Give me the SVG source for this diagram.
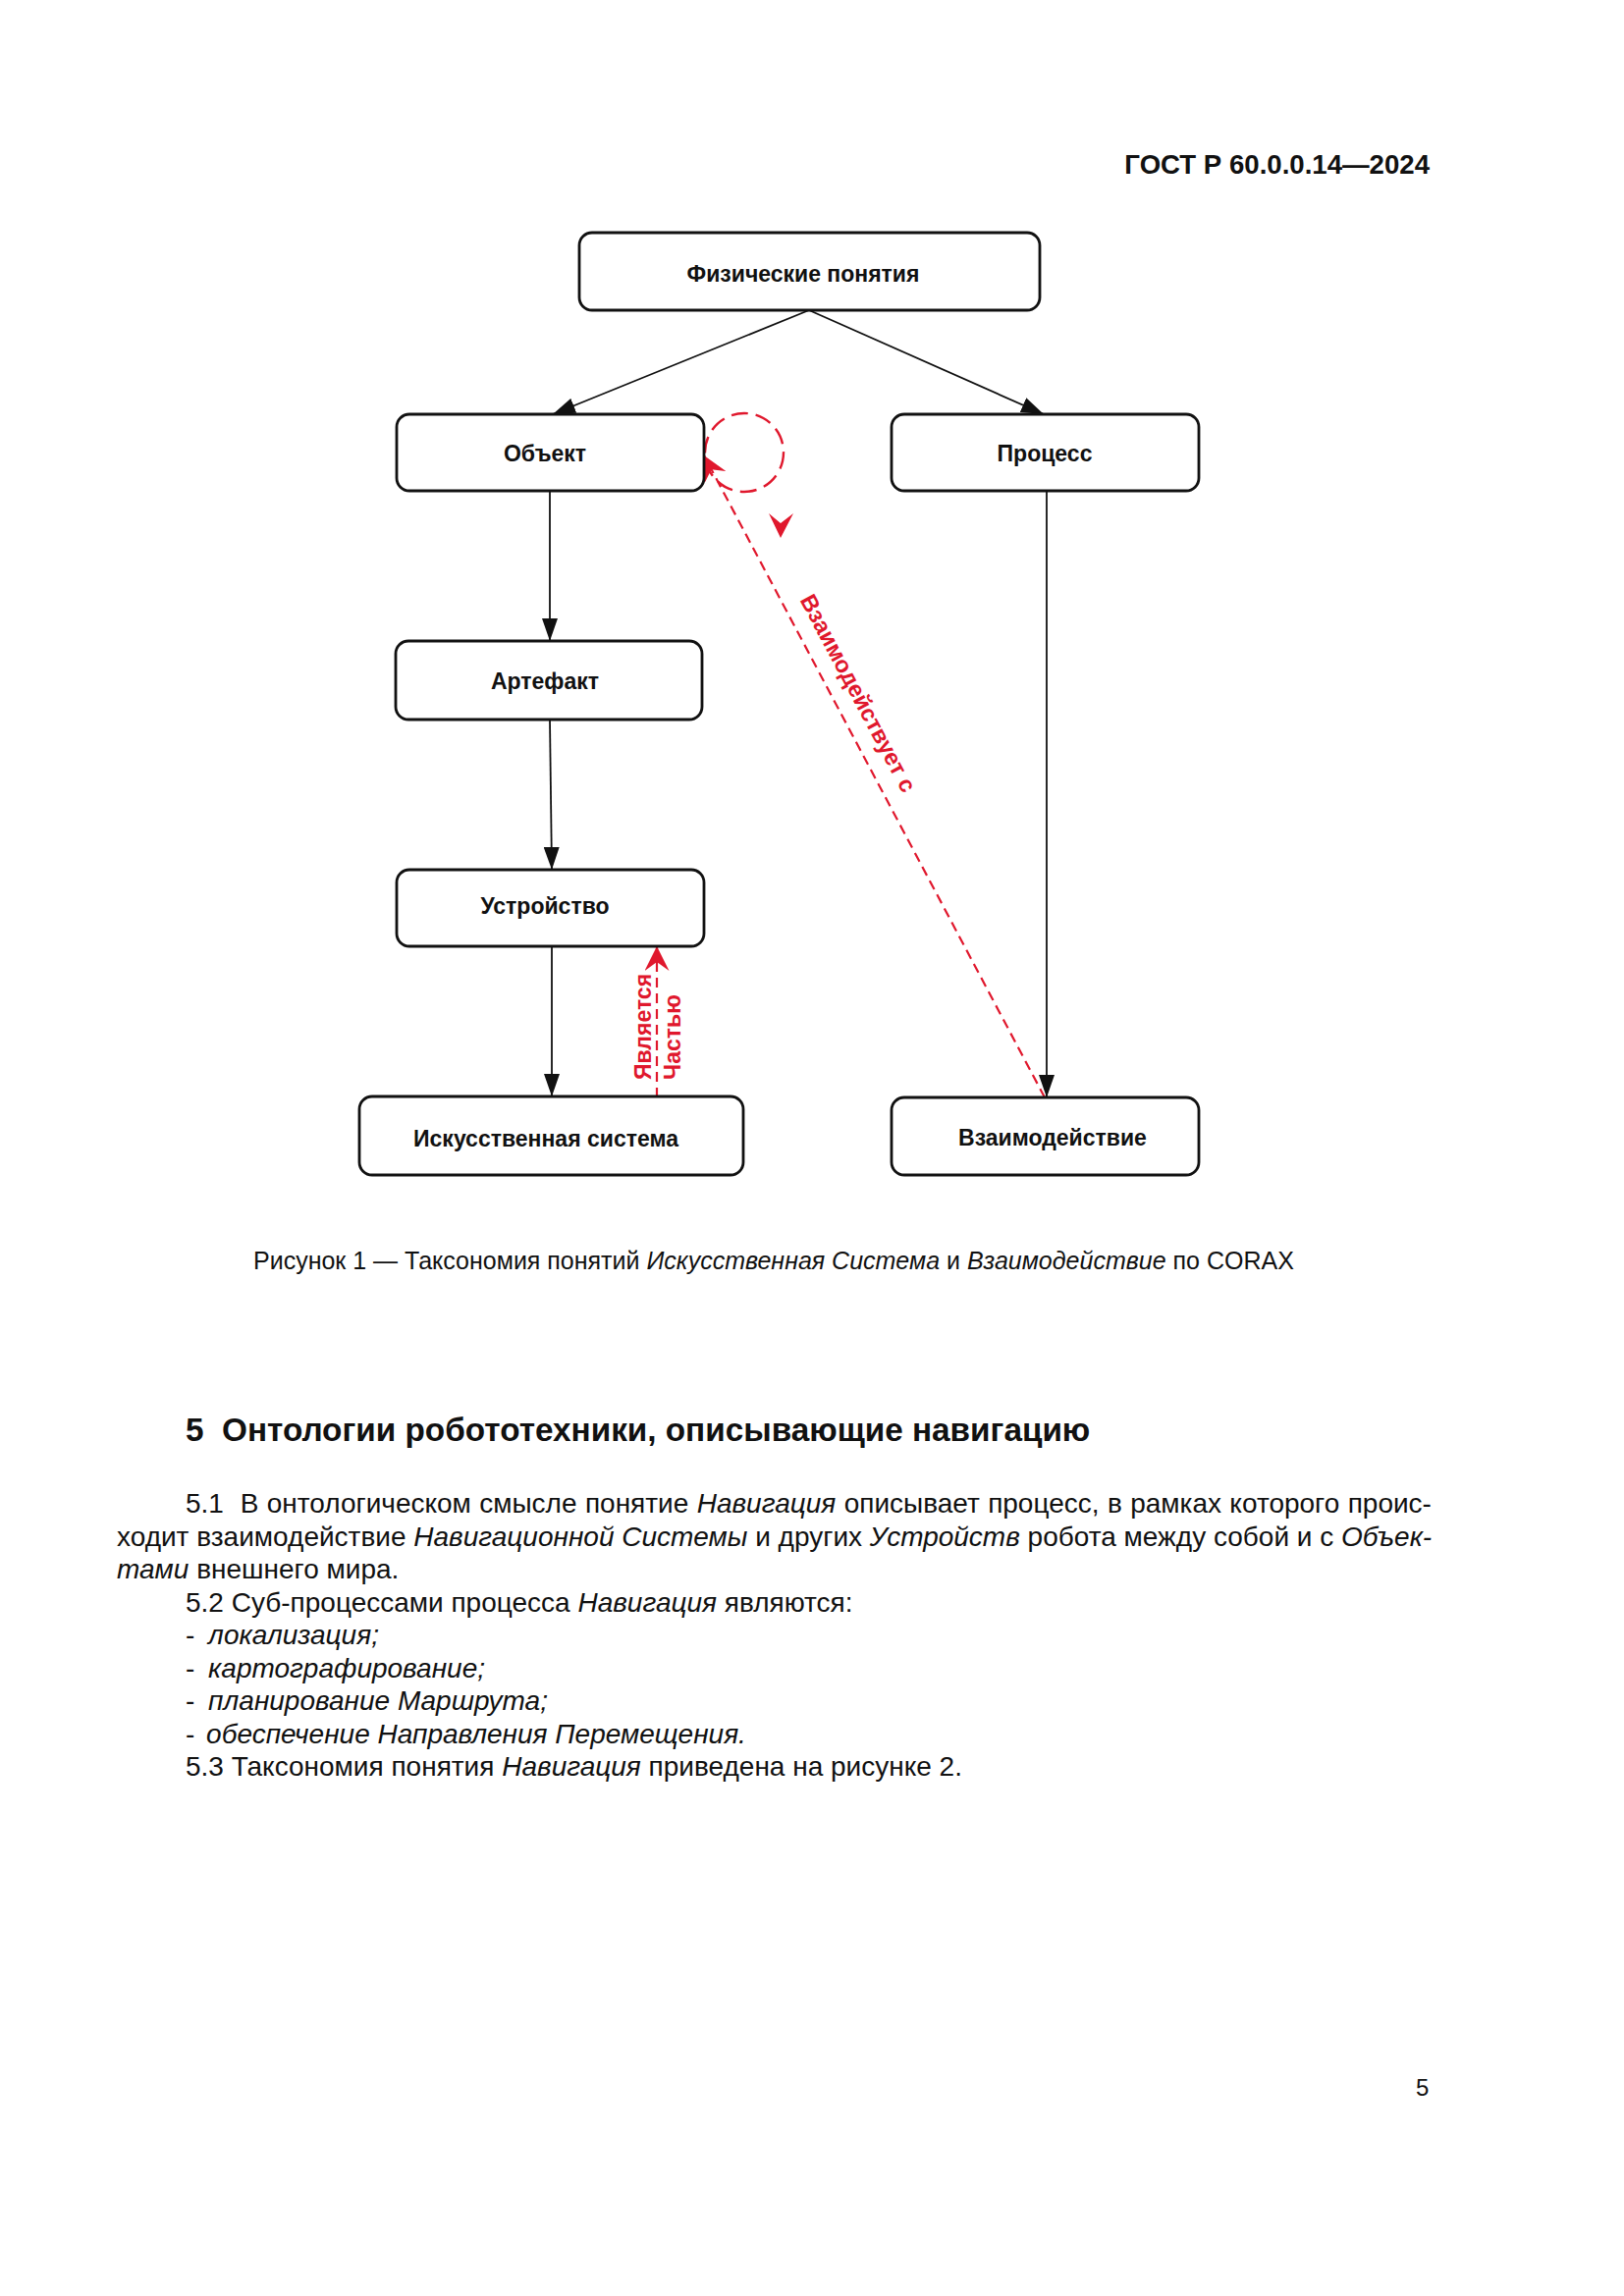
<svg xmlns="http://www.w3.org/2000/svg" width="1654" height="2339" viewBox="0 0 1654 2339">
<style>
.box{fill:#fff;stroke:#111;stroke-width:2.8}
.lbl{font-family:"Liberation Sans",Arial,sans-serif;font-size:23px;font-weight:bold;fill:#111;text-anchor:middle}
.edge{stroke:#111;stroke-width:1.8;fill:none}
.red{stroke:#e0182d;stroke-width:2.2;fill:none;stroke-dasharray:10 6}
.redc{stroke:#e0182d;stroke-width:2.4;fill:none;stroke-dasharray:17 8}
.rtxt{font-family:"Liberation Sans",Arial,sans-serif;font-size:23px;font-weight:bold;fill:#e0182d}
.body{font-family:"Liberation Sans",Arial,sans-serif;font-size:28px;fill:#111}
.i{font-style:italic}
</style>
<defs>
<marker id="ab" markerUnits="userSpaceOnUse" markerWidth="23" markerHeight="16" viewBox="0 0 23 16" refX="23" refY="8" orient="auto">
<path d="M0,0 L23,8 L0,16 z" fill="#111"/>
</marker>
<marker id="ar" markerUnits="userSpaceOnUse" markerWidth="25" markerHeight="25" viewBox="0 0 25 25" refX="25" refY="12.5" orient="auto">
<path d="M0,0 L25,12.5 L0,25 L9,12.5 z" fill="#e0182d"/>
</marker>
</defs>
<rect width="1654" height="2339" fill="#fff"/>
<text x="1456" y="177" font-family="Liberation Sans, Arial, sans-serif" font-size="27.6" font-weight="bold" text-anchor="end" fill="#111">ГОСТ Р 60.0.0.14—2024</text>

<g id="connectors">
<line class="edge" x1="824" y1="316" x2="563" y2="422" marker-end="url(#ab)"/>
<line class="edge" x1="824" y1="316" x2="1063" y2="422" marker-end="url(#ab)"/>
<line class="edge" x1="560" y1="500" x2="560" y2="653" marker-end="url(#ab)"/>
<line class="edge" x1="560" y1="733" x2="562" y2="886" marker-end="url(#ab)"/>
<line class="edge" x1="562" y1="964" x2="562" y2="1117" marker-end="url(#ab)"/>
<line class="edge" x1="1066" y1="500" x2="1066" y2="1118" marker-end="url(#ab)"/>
<line class="red" x1="1064" y1="1118" x2="717" y2="464" marker-end="url(#ar)"/>
<circle class="redc" cx="758" cy="461" r="40"/>
<path d="M783,523 L795,548 L808,523 L795,533 z" fill="#e0182d"/>
<line class="red" x1="669" y1="1118" x2="669" y2="964" marker-end="url(#ar)"/>
<text class="rtxt" x="867" y="710" text-anchor="middle" style="font-size:23.5px" transform="rotate(62 867 710)">Взаимодействует с</text>
<text class="rtxt" x="663" y="1100" transform="rotate(-90 663 1100)">Является</text>
<text class="rtxt" x="693" y="1100" transform="rotate(-90 693 1100)">Частью</text>
</g>

<g id="n-phys"><rect class="box" x="590" y="237" width="469" height="79" rx="13"/><text class="lbl" x="818" y="287">Физические понятия</text></g>
<g id="n-obj"><rect class="box" x="404" y="422" width="313" height="78" rx="13"/><text class="lbl" x="555" y="470">Объект</text></g>
<g id="n-proc"><rect class="box" x="908" y="422" width="313" height="78" rx="13"/><text class="lbl" x="1064" y="470">Процесс</text></g>
<g id="n-art"><rect class="box" x="403" y="653" width="312" height="80" rx="13"/><text class="lbl" x="555" y="702">Артефакт</text></g>
<g id="n-dev"><rect class="box" x="404" y="886" width="313" height="78" rx="13"/><text class="lbl" x="555" y="931">Устройство</text></g>
<g id="n-art-sys"><rect class="box" x="366" y="1117" width="391" height="80" rx="13"/><text class="lbl" x="556" y="1168">Искусственная система</text></g>
<g id="n-inter"><rect class="box" x="908" y="1118" width="313" height="79" rx="13"/><text class="lbl" x="1072" y="1167">Взаимодействие</text></g>

<text class="body" x="258" y="1293" style="font-size:25px" xml:space="preserve">Рисунок 1 — Таксономия понятий <tspan class="i">Искусственная Система</tspan> и <tspan class="i">Взаимодействие</tspan> по CORAX</text>

<text x="189" y="1468" font-family="Liberation Sans, Arial, sans-serif" font-size="33.3" font-weight="bold" fill="#111" xml:space="preserve">5  Онтологии робототехники, описывающие навигацию</text>

<text class="body" x="189" y="1541" word-spacing="0.6" xml:space="preserve">5.1  В онтологическом смысле понятие <tspan class="i">Навигация</tspan> описывает процесс, в рамках которого проис-</text>
<text class="body" x="119" y="1575" xml:space="preserve">ходит взаимодействие <tspan class="i">Навигационной Системы</tspan> и других <tspan class="i">Устройств</tspan> робота между собой и с <tspan class="i">Объек-</tspan></text>
<text class="body" x="119" y="1608" xml:space="preserve"><tspan class="i">тами</tspan> внешнего мира.</text>
<text class="body" x="189" y="1642" xml:space="preserve">5.2 Суб-процессами процесса <tspan class="i">Навигация</tspan> являются:</text>
<text class="body" x="189" y="1675" xml:space="preserve">- <tspan class="i" dx="6">локализация;</tspan></text>
<text class="body" x="189" y="1709" xml:space="preserve">- <tspan class="i" dx="6">картографирование;</tspan></text>
<text class="body" x="189" y="1742" xml:space="preserve">- <tspan class="i" dx="6">планирование Маршрута;</tspan></text>
<text class="body" x="189" y="1776" xml:space="preserve">- <tspan class="i" dx="4">обеспечение Направления Перемещения.</tspan></text>
<text class="body" x="189" y="1809" xml:space="preserve">5.3 Таксономия понятия <tspan class="i">Навигация</tspan> приведена на рисунке 2.</text>

<text class="body" x="1442" y="2135" style="font-size:24px">5</text>
</svg>
